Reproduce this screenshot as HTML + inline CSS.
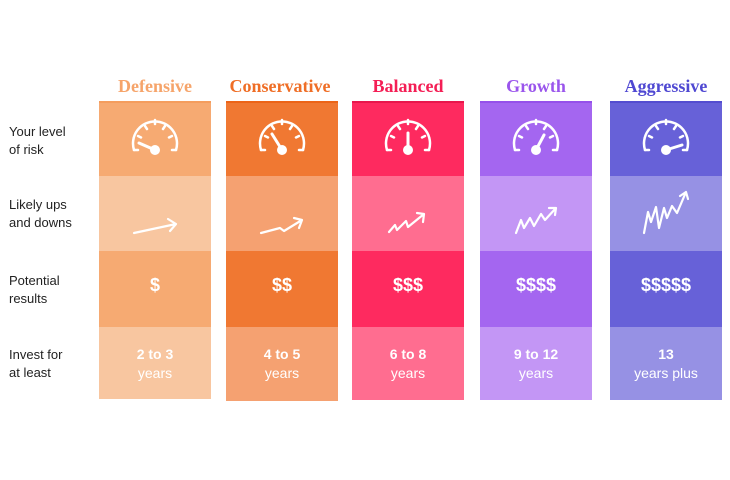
<!DOCTYPE html><html><head><style>
body{margin:0;width:730px;height:480px;background:#fff;font-family:"Liberation Sans",sans-serif;position:relative;overflow:hidden}
.t{position:absolute;width:140px;text-align:center;font-family:"Liberation Serif",serif;font-weight:bold;font-size:18px;top:76px}
.l{position:absolute;left:9px;font-size:13px;color:#222;line-height:18px}
.tx{position:absolute;width:112px;text-align:center;color:#fff;font-size:14px;line-height:19px}
</style></head><body>
<div class="l" style="top:123px">Your level<br>of risk</div>
<div class="l" style="top:196px">Likely ups<br>and downs</div>
<div class="l" style="top:272px">Potential<br>results</div>
<div class="l" style="top:346px">Invest for<br>at least</div>

<div class="t" style="left:85px;color:#F6A46A">Defensive</div>
<div class="t" style="left:210px;color:#EF6E26">Conservative</div>
<div class="t" style="left:338px;color:#F41E55">Balanced</div>
<div class="t" style="left:466px;color:#9A55EC">Growth</div>
<div class="t" style="left:596px;color:#4F48D2">Aggressive</div>

<svg width="730" height="480" style="position:absolute;left:0;top:0">
<g>
<rect x="99" y="101" width="112" height="75" fill="#F6AA72"/><rect x="99" y="101" width="112" height="2" fill="#F49D5E"/>
<rect x="99" y="176" width="112" height="75" fill="#F8C6A0"/>
<rect x="99" y="251" width="112" height="76" fill="#F6AA72"/>
<rect x="99" y="327" width="112" height="72" fill="#F8C6A0"/>

<rect x="226" y="101" width="112" height="75" fill="#F07832"/><rect x="226" y="101" width="112" height="2" fill="#EC6418"/>
<rect x="226" y="176" width="112" height="75" fill="#F5A171"/>
<rect x="226" y="251" width="112" height="76" fill="#F07832"/>
<rect x="226" y="327" width="112" height="74" fill="#F5A171"/>

<rect x="352" y="101" width="112" height="75" fill="#FE2A5F"/><rect x="352" y="101" width="112" height="2" fill="#E8174C"/>
<rect x="352" y="176" width="112" height="75" fill="#FF6D90"/>
<rect x="352" y="251" width="112" height="76" fill="#FE2A5F"/>
<rect x="352" y="327" width="112" height="73" fill="#FF6D90"/>

<rect x="480" y="101" width="112" height="75" fill="#A466F0"/><rect x="480" y="101" width="112" height="2" fill="#9550EA"/>
<rect x="480" y="176" width="112" height="75" fill="#C396F5"/>
<rect x="480" y="251" width="112" height="76" fill="#A466F0"/>
<rect x="480" y="327" width="112" height="73" fill="#C396F5"/>

<rect x="610" y="101" width="112" height="75" fill="#6761D8"/><rect x="610" y="101" width="112" height="2" fill="#544DD0"/>
<rect x="610" y="176" width="112" height="75" fill="#9691E4"/>
<rect x="610" y="251" width="112" height="76" fill="#6761D8"/>
<rect x="610" y="327" width="112" height="73" fill="#9691E4"/>
</g>
<defs><g id="g" fill="none" stroke="#fff" stroke-width="2.5">
<path d="M-21 10 A22 22 0 1 1 21 10"/><path d="M-21 10h4M21 10h-4"/>
<path d="M-17 -4l3 1.5M-10 -14l2 3M0 -20v4M10 -14l-2 3M17 -4l-3 1.5"/>
</g></defs>
<g stroke="#fff" stroke-width="3" fill="#fff" stroke-linecap="round">
<use href="#g" x="155" y="140"/><line x1="155" y1="150" x2="139" y2="143"/><circle cx="155" cy="150" r="3.5"/>
<use href="#g" x="282" y="140"/><line x1="282" y1="150" x2="272" y2="134"/><circle cx="282" cy="150" r="3.5"/>
<use href="#g" x="408" y="140"/><line x1="408" y1="150" x2="408" y2="133"/><circle cx="408" cy="150" r="3.5"/>
<use href="#g" x="536" y="140"/><line x1="536" y1="150" x2="544" y2="135"/><circle cx="536" cy="150" r="3.5"/>
<use href="#g" x="666" y="140"/><line x1="666" y1="150" x2="682" y2="145"/><circle cx="666" cy="150" r="3.5"/>
</g>
<g stroke="#fff" stroke-width="2.2" fill="none" stroke-linecap="round" stroke-linejoin="round">
<path d="M134 233L176 224M168 219L176 224L170 231"/>
<path d="M261 233L280 228L284 231L302 220M294 218L302 220L299 228"/>
<path d="M389 232L395 225L397 230L406 221L408 227L424 214M417 213L424 214L423 222"/>
<path d="M516 233L521 220L524 228L530 218L534 226L541 214L545 220L556 208M549 208L556 208L555 215"/>
<path d="M644 233L648 212L651 222L656 207L659 228L664 208L667 218L672 206L677 213L686 192M680 196L686 192L688 199"/>
</g>
</svg>

<div class="tx" style="left:99px;top:276px;font-size:18px;font-weight:bold">$</div>
<div class="tx" style="left:226px;top:276px;font-size:18px;font-weight:bold">$$</div>
<div class="tx" style="left:352px;top:276px;font-size:18px;font-weight:bold">$$$</div>
<div class="tx" style="left:480px;top:276px;font-size:18px;font-weight:bold">$$$$</div>
<div class="tx" style="left:610px;top:276px;font-size:18px;font-weight:bold">$$$$$</div>

<div class="tx" style="left:99px;top:345px"><b>2 to 3</b><br>years</div>
<div class="tx" style="left:226px;top:345px"><b>4 to 5</b><br>years</div>
<div class="tx" style="left:352px;top:345px"><b>6 to 8</b><br>years</div>
<div class="tx" style="left:480px;top:345px"><b>9 to 12</b><br>years</div>
<div class="tx" style="left:610px;top:345px"><b>13</b><br>years plus</div>
</body></html>
